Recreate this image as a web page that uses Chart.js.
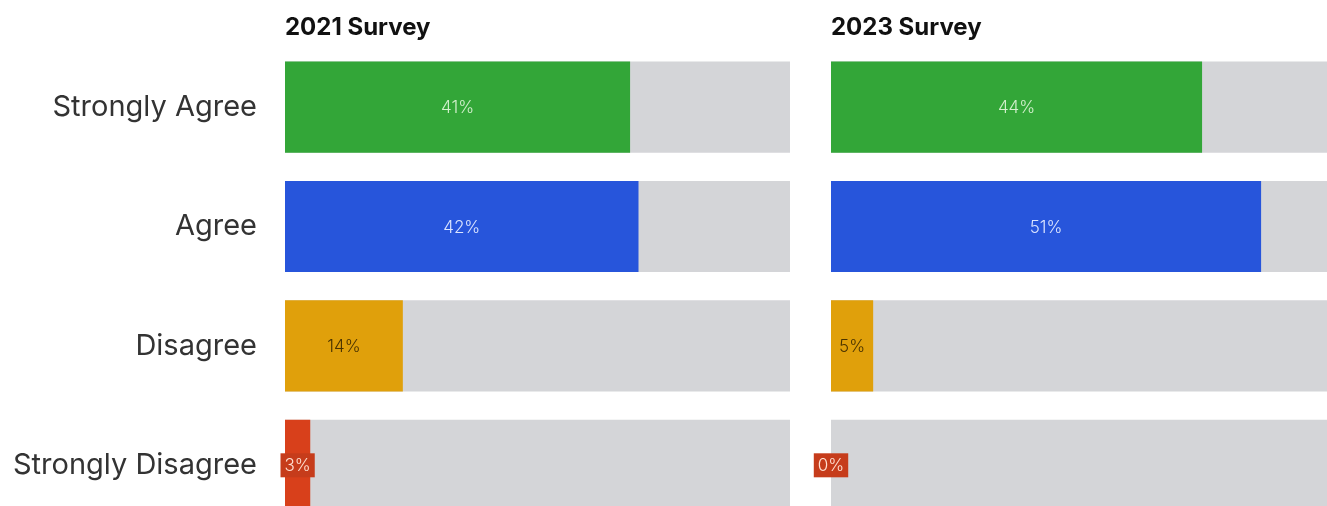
<!DOCTYPE html>
<html>
<head>
<meta charset="utf-8">
<script src="https://cdn.jsdelivr.net/npm/chart.js@4/dist/chart.umd.min.js"></script>
<style>
    html, body { margin: 0; padding: 0; background: #fff; overflow: hidden; }
    #page { position: relative; width: 1327px; height: 506px; overflow: hidden; }
    #left_wrap { position: absolute; left: 0; top: 0; width: 790px; height: 525px; }
    #right_wrap { position: absolute; left: 811px; top: 0; width: 526px; height: 525px; }
</style>
</head>
<body>
<div id="page">
    <div id="left_wrap"><canvas id="chart_2021"></canvas></div>
    <div id="right_wrap"><canvas id="chart_2023"></canvas></div>
</div>
<script>
/* Chart data */
const categories = ['Strongly Agree', 'Agree', 'Disagree', 'Strongly Disagree'];
const survey2021 = [41, 42, 14, 3];
const survey2023 = [44, 51, 5, 0];
const trackValues = [60, 60, 60, 60];
const scaleMax = 60;

/* Colours per answer */
const barColors = ['#33a638', '#2755db', '#e0a00b', '#d8401b'];
const labelColors = ['#d3f0cd', '#dce5ff', '#4a3300', '#ffe0d2'];
const labelBoxes = [null, null, null, '#c63c1b'];
const trackColor = '#d4d5d8';

Chart.defaults.font.family = 'Inter, "Noto Sans", sans-serif';

/* Draws the value label in the middle of every bar */
const valueLabels = {
    id: 'valueLabels',
    afterDatasetsDraw(chart) {
        const ctx = chart.ctx;
        const meta = chart.getDatasetMeta(1);
        const values = chart.data.datasets[1].data;
        ctx.save();
        ctx.font = '300 17px Inter, "Noto Sans", sans-serif';
        ctx.textAlign = 'center';
        ctx.textBaseline = 'middle';
        meta.data.forEach((bar, i) => {
            const cx = (bar.x + bar.base) / 2;
            const cy = bar.y;
            const text = values[i] + '%';
            if (labelBoxes[i]) {
                const w = ctx.measureText(text).width + 8;
                ctx.fillStyle = labelBoxes[i];
                ctx.fillRect(cx - w / 2, cy - 12, w, 24);
            }
            ctx.fillStyle = labelColors[i];
            ctx.fillText(text, cx, cy + 1);
        });
        ctx.restore();
    }
};

function makeChart(canvas, title, values, showLabels, padLeft) {
    return new Chart(canvas, {
        type: 'bar',
        data: {
            labels: categories,
            datasets: [{
                data: trackValues,
                backgroundColor: trackColor,
                order: 2
            }, {
                data: values,
                backgroundColor: barColors,
                order: 1
            }]
        },
        options: {
            indexAxis: 'y',
            responsive: true,
            maintainAspectRatio: false,
            animation: false,
            layout: { padding: { left: padLeft, right: 0, top: 0, bottom: 0 } },
            datasets: {
                bar: {
                    grouped: false,
                    borderWidth: 0,
                    barPercentage: 0.763,
                    categoryPercentage: 1
                }
            },
            scales: {
                x: {
                    display: false,
                    min: 0,
                    max: scaleMax
                },
                y: {
                    display: showLabels,
                    grid: { display: false, drawTicks: false },
                    border: { display: false },
                    ticks: {
                        padding: 28,
                        color: '#333',
                        font: { size: 29 }
                    },
                    afterFit(scale) {
                        // fixed label column, no extra padding above/below
                        scale.width = showLabels ? 285 : 0;
                        scale.paddingTop = 0;
                        scale.paddingBottom = 0;
                    }
                }
            },
            plugins: {
                legend: { display: false },
                tooltip: { enabled: false },
                title: {
                    display: true,
                    text: title,
                    align: 'start',
                    fullSize: false,
                    color: '#111',
                    font: { size: 24, weight: 'bold', lineHeight: 1.2 },
                    padding: { top: 13, bottom: 5.6 }
                }
            }
        },
        plugins: [valueLabels]
    });
}

makeChart(document.getElementById('chart_2021'), '2021 Survey', survey2021, true, 0);
// room on the left so the 0% label is not clipped
makeChart(document.getElementById('chart_2023'), '2023 Survey', survey2023, false, 20);
</script>
</body>
</html>
